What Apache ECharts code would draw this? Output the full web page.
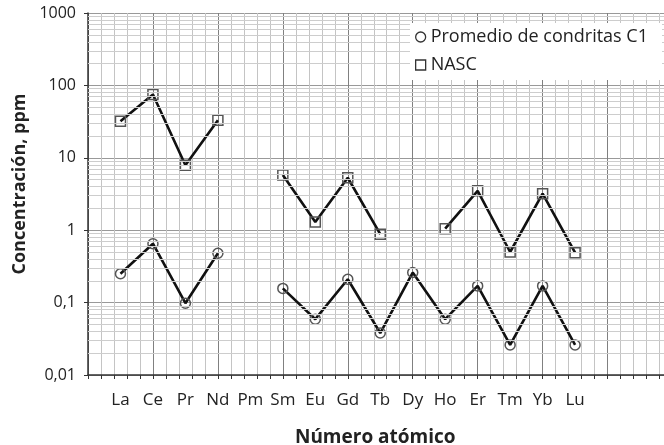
<!DOCTYPE html>
<html>
<head>
<meta charset="utf-8">
<script src="https://cdn.jsdelivr.net/npm/echarts@6/dist/echarts.min.js"></script>
<style>
  html, body { margin: 0; padding: 0; background: #fff; }
  #chart { width: 664px; height: 445px; }
</style>
</head>
<body>
<div id="chart"></div>
<script>
// Rare-earth elements in order of atomic number
const elements = ['La', 'Ce', 'Pr', 'Nd', 'Pm', 'Sm', 'Eu', 'Gd', 'Tb', 'Dy', 'Ho', 'Er', 'Tm', 'Yb', 'Lu'];

// Concentrations in ppm (null = no value, line is broken there)
const chondriteC1 = [0.25, 0.65, 0.098, 0.48, null, 0.157, 0.059, 0.21, 0.038, 0.26, 0.059, 0.17, 0.026, 0.17, 0.026];
const nasc = [32, 75, 7.9, 33, null, 5.8, 1.3, 5.3, 0.88, null, 1.05, 3.5, 0.5, 3.2, 0.49];

const seriesNames = ['Promedio de condritas C1', 'NASC'];

// Decade tick labels and the intermediate log grid values
const decades = [0.01, 0.1, 1, 10, 100, 1000];
const minorMultipliers = [2, 3, 4, 5, 6, 7, 8, 9];

const minorGridValues = [];
decades.slice(0, -1).forEach(d => minorMultipliers.forEach(m => minorGridValues.push(+(d * m).toPrecision(3))));

const toPoints = vals => vals.map((v, i) => [i + 1, v]);

const FONT = '"Open Sans", "Noto Sans", sans-serif';

const chart = echarts.init(document.getElementById('chart'), null, { renderer: 'canvas' });

chart.setOption({
  animation: false,
  backgroundColor: '#fff',
  textStyle: { fontFamily: FONT },
  grid: { left: 88, right: -8.5, top: 13, bottom: 70, containLabel: false, outerBoundsMode: 'none' },
  legend: {
    orient: 'vertical',
    left: 410,
    top: 23,
    z: 20,
    padding: [5, 14, 6, 5],
    itemGap: 10,
    itemWidth: 10,
    itemHeight: 10,
    backgroundColor: '#fff',
    textStyle: { fontFamily: FONT, fontSize: 18, color: '#222' },
    data: [
      { name: seriesNames[0], icon: 'circle', itemStyle: { color: '#fff', borderColor: '#333', borderWidth: 1.3 } },
      { name: seriesNames[1], icon: 'rect', itemStyle: { color: '#fff', borderColor: '#333', borderWidth: 1.3 } }
    ]
  },
  xAxis: [
    {
      // grid axis: major lines every two elements, five subdivisions
      type: 'value',
      min: 0,
      max: 18,
      interval: 2,
      position: 'bottom',
      name: 'Número atómico',
      nameLocation: 'middle',
      nameGap: 53,
      nameTextStyle: { fontFamily: FONT, fontSize: 19, fontWeight: 'bold', color: '#222', padding: [0, 10, 0, 0] },
      axisLine: { show: true, lineStyle: { color: '#333', width: 1.5 } },
      axisTick: { show: true, length: 4, lineStyle: { color: '#333' } },
      minorTick: { show: true, splitNumber: 5, length: 4, lineStyle: { color: '#333' } },
      axisLabel: { show: false },
      splitLine: { show: true, lineStyle: { color: '#808080', width: 1 } },
      minorSplitLine: { show: true, lineStyle: { color: '#c4c4c4', width: 1 } }
    },
    {
      // label axis: one element name per unit
      type: 'value',
      min: 0,
      max: 18,
      interval: 1,
      position: 'bottom',
      axisLine: { show: false },
      axisTick: { show: false },
      splitLine: { show: false },
      axisLabel: {
        show: true,
        margin: 17,
        fontFamily: FONT,
        fontSize: 17,
        color: '#222',
        showMinLabel: false,
        showMaxLabel: false,
        formatter: v => elements[v - 1] || ''
      }
    }
  ],
  yAxis: {
    type: 'log',
    logBase: 10,
    min: decades[0],
    max: decades[decades.length - 1],
    name: 'Concentración, ppm',
    nameLocation: 'middle',
    nameGap: 58,
    nameRotate: 90,
    nameTextStyle: { fontFamily: FONT, fontSize: 18, fontWeight: 'bold', color: '#222', padding: [0, 0, 0, 20] },
    axisLine: { show: true, lineStyle: { color: '#333', width: 1.5 } },
    axisTick: { show: true, length: 4, lineStyle: { color: '#333' } },
    axisLabel: {
      margin: 12,
      fontFamily: FONT,
      fontSize: 16,
      color: '#222',
      formatter: v => String(+v.toPrecision(3)).replace('.', ',')
    },
    splitLine: { show: true, lineStyle: { color: '#999', width: 1 } }
  },
  series: [
    {
      // intermediate logarithmic grid lines (2..9 of each decade)
      type: 'line',
      xAxisIndex: 0,
      data: [],
      silent: true,
      z: 1,
      markLine: {
        silent: true,
        symbol: 'none',
        label: { show: false },
        animation: false,
        lineStyle: { color: '#cdcdcd', width: 1, type: 'solid' },
        data: minorGridValues.map(v => ({ yAxis: v }))
      }
    },
    {
      name: seriesNames[0],
      type: 'line',
      xAxisIndex: 0,
      data: toPoints(chondriteC1),
      connectNulls: false,
      z: 3,
      symbol: 'circle',
      symbolSize: 10,
      lineStyle: { color: '#111', width: 2.6 },
      itemStyle: { color: 'rgba(255,255,255,0)', borderColor: '#555', borderWidth: 1.5 }
    },
    {
      name: seriesNames[1],
      type: 'line',
      xAxisIndex: 0,
      data: toPoints(nasc),
      connectNulls: false,
      z: 3,
      symbol: 'rect',
      symbolSize: 10,
      lineStyle: { color: '#111', width: 2.6 },
      itemStyle: { color: 'rgba(255,255,255,0)', borderColor: '#555', borderWidth: 1.5 }
    }
  ]
});
</script>
</body>
</html>
